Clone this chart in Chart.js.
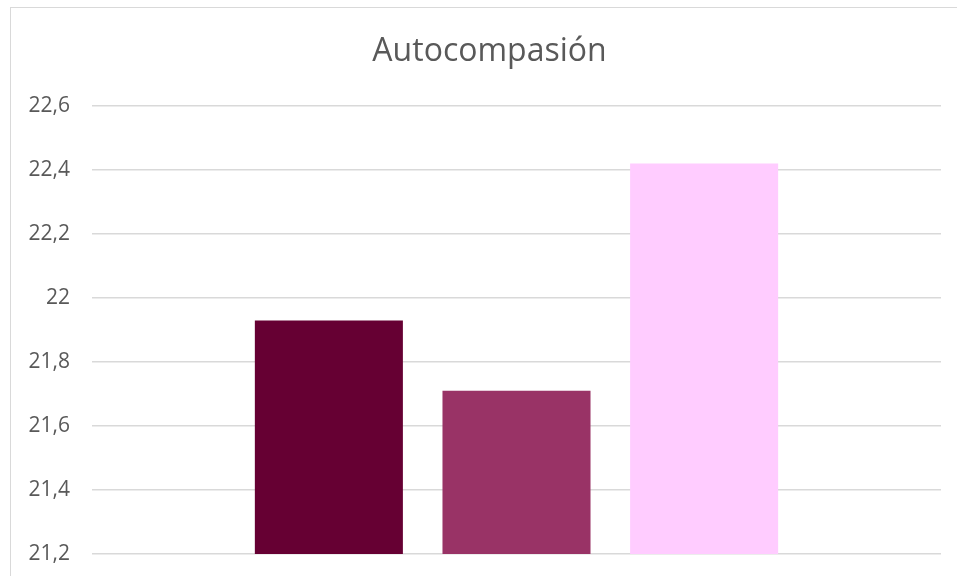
<!DOCTYPE html>
<html>
<head>
<meta charset="utf-8">
<script src="https://cdn.jsdelivr.net/npm/chart.js@4/dist/chart.umd.min.js"></script>
<style>
  html, body { margin: 0; padding: 0; background: #ffffff; overflow: hidden; width: 957px; height: 576px; }
  #frame { position: absolute; left: 10px; top: 7px; width: 1000px; height: 600px; border: 1px solid #d9d9d9; box-sizing: border-box; }
  #wrap { position: absolute; left: 0; top: 0; width: 979px; height: 576px; }
</style>
</head>
<body>
<div id="frame"></div>
<div id="wrap"><canvas id="c"></canvas></div>
<script>
const chartTitle = 'Autocompasión';
const categories = ['Autocompasión'];
const seriesNames = ['Grupo 1', 'Grupo 2', 'Grupo 3'];
const seriesValues = [21.93, 21.71, 22.42];
const seriesColors = ['#660033', '#993366', '#FFCCFF'];
const yMin = 21.2, yMax = 22.6, yStep = 0.2;

const datasets = seriesNames.map((name, i) => ({
  label: name,
  data: [seriesValues[i]],
  backgroundColor: seriesColors[i],
  borderWidth: 0,
  categoryPercentage: 0.663,
  barPercentage: 0.789
}));

// Excel centres the title on the whole chart object (which extends past the right edge)
const centerTitle = {
  id: 'centerTitle',
  afterLayout(chart) {
    const t = chart.titleBlock;
    if (t) { t.left = 0; t.right = chart.width; t.width = chart.width; }
  }
};

new Chart(document.getElementById('c'), {
  type: 'bar',
  data: { labels: categories, datasets },
  plugins: [centerTitle],
  options: {
    responsive: true,
    maintainAspectRatio: false,
    animation: false,
    layout: { padding: { left: 0, right: 38, top: 0, bottom: 22 } },
    plugins: {
      legend: { display: false },
      tooltip: { enabled: false },
      title: {
        display: true,
        text: chartTitle,
        color: '#595959',
        font: { family: 'Open Sans', size: 32, weight: 'normal' },
        padding: { top: 33, bottom: 34.6 }
      }
    },
    scales: {
      x: { display: false },
      y: {
        min: yMin,
        max: yMax,
        border: { display: false },
        grid: { color: '#d9d9d9', lineWidth: 1.5, drawTicks: true, tickLength: 22, tickColor: 'rgba(0,0,0,0)' },
        ticks: {
          stepSize: yStep,
          padding: 0,
          color: '#595959',
          font: { family: 'Open Sans', size: 21 },
          callback: (v) => (Math.round(v * 10) / 10).toString().replace('.', ',')
        },
        afterFit: (scale) => { scale.width = 92; }
      }
    }
  }
});
</script>
</body>
</html>
